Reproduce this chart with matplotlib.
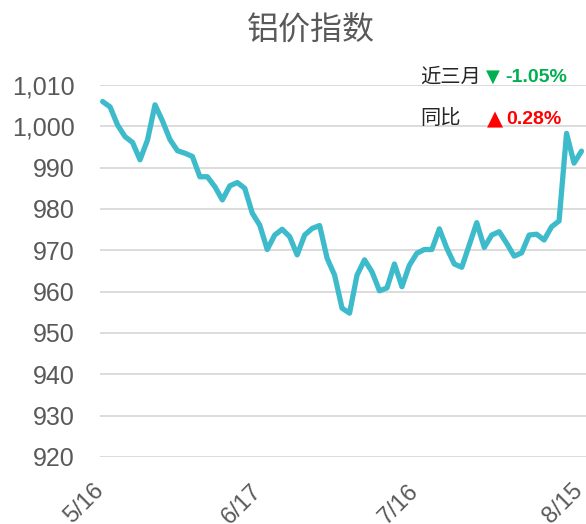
import matplotlib
matplotlib.use('Agg')
import matplotlib.pyplot as plt
from matplotlib.transforms import ScaledTranslation

# trading days 5/16 .. 8/15
dates = ['5/16', '5/17', '5/20', '5/21', '5/22', '5/23', '5/24', '5/27', '5/28', '5/29',
         '5/30', '5/31', '6/3', '6/4', '6/5', '6/6', '6/7', '6/11', '6/12', '6/13',
         '6/14', '6/17', '6/18', '6/19', '6/20', '6/21', '6/24', '6/25', '6/26', '6/27',
         '6/28', '7/1', '7/2', '7/3', '7/4', '7/5', '7/8', '7/9', '7/10', '7/11',
         '7/12', '7/15', '7/16', '7/17', '7/18', '7/19', '7/22', '7/23', '7/24', '7/25',
         '7/26', '7/29', '7/30', '7/31', '8/1', '8/2', '8/5', '8/6', '8/7', '8/8',
         '8/9', '8/12', '8/13', '8/14', '8/15']
index_values = [1006.0, 1004.7, 1000.3, 997.5, 996.1, 991.9, 996.7, 1005.2, 1001.3, 996.8,
                994.1, 993.5, 992.7, 987.8, 987.8, 985.4, 982.2, 985.6, 986.4, 985.0,
                979.0, 976.1, 970.2, 973.7, 975.1, 973.3, 968.9, 973.7, 975.3, 976.0,
                968.1, 964.0, 956.0, 954.8, 964.0, 967.7, 964.8, 960.2, 960.9, 966.7,
                961.2, 966.4, 969.3, 970.2, 970.2, 975.2, 970.5, 966.7, 965.9, 971.3,
                976.7, 970.7, 973.7, 974.5, 971.7, 968.6, 969.4, 973.7, 973.9, 972.5,
                975.7, 977.1, 998.3, 991.1, 994.0]
tick_labels = ['5/16', '6/17', '7/16', '8/15']
yticks = [920, 930, 940, 950, 960, 970, 980, 990, 1000, 1010]

W, H = 586, 524
fig = plt.figure(figsize=(W / 100, H / 100), dpi=100)
ax = fig.add_axes([100 / W, 67 / H, 486 / W, 372 / H])

x = list(range(len(index_values)))
ax.plot(x, index_values, color='#3DBBCB', lw=3.8, solid_joinstyle='round',
        solid_capstyle='round', zorder=3, clip_on=False)

ax.set_xlim(-0.35, 64.6)
ax.set_ylim(920, 1010)
ax.set_yticks(yticks)
ax.set_yticklabels(['{:,}'.format(v) for v in yticks], fontsize=18,
                   color='#595959', family='Liberation Sans')
ax.grid(axis='y', color='#d9d9d9', lw=1.3)
ax.set_axisbelow(True)
for s in ax.spines.values():
    s.set_visible(False)
ax.tick_params(axis='both', length=0)
ax.tick_params(axis='y', pad=18)

tick_pos = [dates.index(t) for t in tick_labels]
ax.set_xticks(tick_pos)
ax.set_xticklabels(tick_labels, rotation=45, ha='right', va='center',
                   rotation_mode='anchor', fontsize=17, color='#595959',
                   family='Liberation Sans')
ax.tick_params(axis='x', pad=22)
shift = ScaledTranslation(-2 / 100, 0, fig.dpi_scale_trans)
for lbl in ax.get_xticklabels():
    lbl.set_transform(lbl.get_transform() + shift)

fig.text(311 / W, 1 - 31 / H, '铝价指数', ha='center', va='center', fontsize=23,
         color='#595959', family=['Noto Sans CJK SC', 'DejaVu Sans'])

cjk = ['Noto Sans CJK SC', 'DejaVu Sans']
num = dict(fontsize=14, weight='bold', family='Liberation Sans', ha='left', va='center')
fig.text(420 / W, 1 - 77 / H, '近三月', ha='left', va='center', fontsize=14.6,
         color='#262626', family=cjk)
fig.text(486 / W, 1 - 77 / H, '▼', ha='left', va='center', fontsize=13,
         color='#00B050', family='DejaVu Sans')
fig.text(505 / W, 1 - 77 / H, '-1.05%', color='#00B050', **num)
fig.text(420 / W, 1 - 119 / H, '同比', ha='left', va='center', fontsize=14.6,
         color='#262626', family=cjk)
fig.text(487 / W, 1 - 119 / H, '▲', ha='left', va='center', fontsize=15,
         color='#FF0000', family='DejaVu Sans')
fig.text(506 / W, 1 - 119 / H, '0.28%', color='#FF0000', **num)

plt.savefig('out.png', dpi=100)
